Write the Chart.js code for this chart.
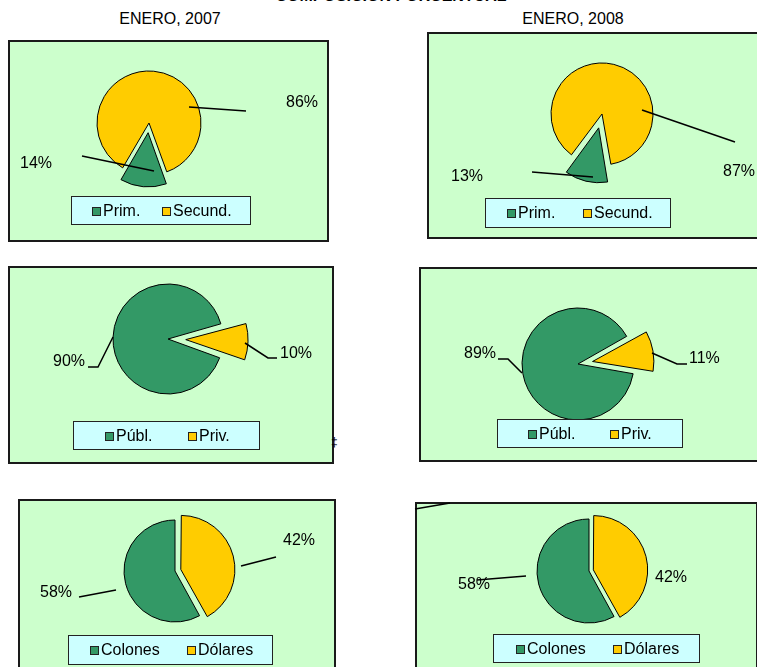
<!DOCTYPE html>
<html><head><meta charset="utf-8">
<script src="https://cdn.jsdelivr.net/npm/chart.js@4/dist/chart.umd.min.js"></script>
<style>
html,body{margin:0;padding:0;background:#fff;width:757px;height:667px;overflow:hidden;position:relative;font-family:"Liberation Sans",Arial,sans-serif;}
.panel{position:absolute;background:#CCFFCC;border:2px solid #1a1a1a;box-sizing:border-box;}
canvas{position:absolute;left:0;top:0;}
.t{position:absolute;font-size:16px;color:#000;white-space:nowrap;transform:translateX(-50%);line-height:16px;}
</style></head><body>
<div class="t" style="left:391px;top:-12px;font-weight:bold;">COMPOSICION PORCENTUAL</div>
<div class="t" id="t0" style="left:170px;top:11px;"></div>
<div class="t" id="t1" style="left:573px;top:11px;"></div>
<script>
// ---- data ----
const periodLabels = ['ENERO, 2007', 'ENERO, 2008'];
const nivelLabels = ['Prim.', 'Secund.'];
const nivel2007 = [14, 86];
const nivel2008 = [13, 87];
const sectorLabels = ['Públ.', 'Priv.'];
const sector2007 = [90, 10];
const sector2008 = [89, 11];
const monedaLabels = ['Colones', 'Dólares'];
const moneda2007 = [58, 42];
const moneda2008 = [58, 42];

const GREEN = '#339966', YELLOW = '#FFCC00';
const FONT = '16px "Liberation Sans", Arial, sans-serif';
const W = 757, H = 667;

document.getElementById('t0').textContent = periodLabels[0];
document.getElementById('t1').textContent = periodLabels[1];

// panel frames (layout)
const panels = [
  [8, 40, 321, 202], [427, 32, 340, 207],
  [8, 266, 326, 198], [419, 267, 350, 195],
  [18, 499, 318, 180], [415, 502, 343, 180]
];
panels.forEach(p => {
  const d = document.createElement('div');
  d.className = 'panel';
  d.style.left = p[0] + 'px'; d.style.top = p[1] + 'px';
  d.style.width = p[2] + 'px'; d.style.height = p[3] + 'px';
  document.body.appendChild(d);
});
const mark = document.createElement('div');
mark.textContent = '‡';
mark.style.cssText = 'position:absolute;left:331px;top:436px;font-size:12px;color:#000;line-height:12px;';
document.body.appendChild(mark);

const annotPlugin = {
  id: 'annot',
  afterDatasetsDraw(chart, args, opts) {
    const ctx = chart.ctx;
    const arc = chart.getDatasetMeta(0).data[0];
    const cx = arc.x, cy = arc.y;
    ctx.save();
    ctx.strokeStyle = '#000'; ctx.lineWidth = 1.5;
    const allLines = (opts.lines || []).concat(opts.extra || []);
    allLines.forEach(pts => {
      if (!pts) return;
      ctx.beginPath();
      pts.forEach((p, i) => i ? ctx.lineTo(cx + p[0], cy + p[1]) : ctx.moveTo(cx + p[0], cy + p[1]));
      ctx.stroke();
    });
    ctx.fillStyle = '#000'; ctx.font = FONT; ctx.textBaseline = 'middle';
    const data = chart.data.datasets[0].data;
    (opts.labels || []).forEach((l, i) => {
      ctx.textAlign = l.align;
      ctx.fillText(data[i] + '%', cx + l.x, cy + l.y);
    });
    const lg = opts.legend;
    ctx.fillStyle = '#CCFFFF'; ctx.fillRect(lg.x, lg.y, lg.w, lg.h);
    ctx.strokeStyle = '#222'; ctx.lineWidth = 1;
    ctx.strokeRect(lg.x + 0.5, lg.y + 0.5, lg.w - 1, lg.h - 1);
    const colors = chart.data.datasets[0].backgroundColor;
    const my = lg.y + lg.h / 2;
    chart.data.labels.forEach((lab, i) => {
      const x = lg.x + lg.items[i];
      ctx.fillStyle = colors[i];
      ctx.fillRect(x, Math.round(my - 4), 9, 9);
      ctx.strokeStyle = '#222';
      ctx.strokeRect(x + 0.5, Math.round(my - 4) + 0.5, 8, 8);
      ctx.fillStyle = '#000'; ctx.textAlign = 'left';
      ctx.fillText(lab, x + 11, my + 1);
    });
    ctx.restore();
  }
};

function makePie(spec) {
  const c = document.createElement('canvas');
  c.width = W; c.height = H;
  c.style.width = W + 'px'; c.style.height = H + 'px';
  document.body.appendChild(c);
  const S = 90;
  new Chart(c, {
    type: 'pie',
    data: {
      labels: spec.labels,
      datasets: [{
        data: spec.values,
        backgroundColor: [GREEN, YELLOW],
        borderColor: '#000',
        borderWidth: 1,
        offset: spec.offsets,
        clip: false
      }]
    },
    options: {
      responsive: false,
      animation: false,
      devicePixelRatio: 1,
      radius: spec.r,
      rotation: spec.rotation,
      layout: { padding: { left: spec.c[0] - S, top: spec.c[1] - S, right: W - spec.c[0] - S, bottom: H - spec.c[1] - S } },
      plugins: {
        legend: { display: false },
        tooltip: { enabled: false },
        annot: { lines: spec.lines, labels: spec.lbl, legend: spec.legend, extra: spec.extra }
      }
    },
    plugins: [annotPlugin]
  });
}

makePie({ labels: nivelLabels, values: nivel2007, c: [149, 123], r: 52, rotation: 160, offsets: [39, 0],
  lines: [[[5, 48], [-67, 33]], [[40, -16], [97, -12]]],
  lbl: [{ x: -97, y: 41, align: 'right' }, { x: 137, y: -20, align: 'left' }],
  legend: { x: 71, y: 196, w: 180, h: 29, items: [21, 91] } });

makePie({ labels: nivelLabels, values: nivel2008, c: [602, 114], r: 51, rotation: 170, offsets: [57, 0],
  lines: [[[-9, 63], [-70, 58]], [[40, -4], [133, 28]]],
  lbl: [{ x: -119, y: 63, align: 'right' }, { x: 121, y: 58, align: 'left' }],
  legend: { x: 485, y: 198, w: 186, h: 30, items: [22, 98] } });

makePie({ labels: sectorLabels, values: sector2007, c: [168, 339], r: 55, rotation: 110, offsets: [0, 71],
  lines: [[[-55, -2], [-70, 28], [-80, 28]], [[77, 4], [100, 19], [109, 19]]],
  lbl: [{ x: -83, y: 23, align: 'right' }, { x: 112, y: 15, align: 'left' }],
  legend: { x: 73, y: 421, w: 187, h: 29, items: [32, 115] } });

makePie({ labels: sectorLabels, values: sector2008, c: [578, 364], r: 56, rotation: 100, offsets: [0, 59],
  lines: [[[-56, 9], [-70, -5], [-80, -5]], [[74, -11], [99, 0], [109, 0]]],
  lbl: [{ x: -82, y: -10, align: 'right' }, { x: 111, y: -5, align: 'left' }],
  legend: { x: 497, y: 419, w: 186, h: 29, items: [31, 113] } });

makePie({ labels: monedaLabels, values: moneda2007, c: [175, 571], r: 51, rotation: 151.2, offsets: [0, 24],
  lines: [[[-59, 19], [-96, 26]], [[66, -5], [101, -14]]],
  lbl: [{ x: -103, y: 22, align: 'right' }, { x: 108, y: -30, align: 'left' }],
  legend: { x: 68, y: 635, w: 205, h: 30, items: [22, 119] } });

makePie({ labels: monedaLabels, values: moneda2008, c: [589, 571], r: 52, rotation: 151.2, offsets: [0, 18],
  lines: [[[-63, 5], [-112, 9]], null],
  extra: [[[-174, -62], [-139, -68]]],
  lbl: [{ x: -99, y: 14, align: 'right' }, { x: 66, y: 7, align: 'left' }],
  legend: { x: 493, y: 634, w: 207, h: 29, items: [23, 120] } });
</script>
</body></html>
